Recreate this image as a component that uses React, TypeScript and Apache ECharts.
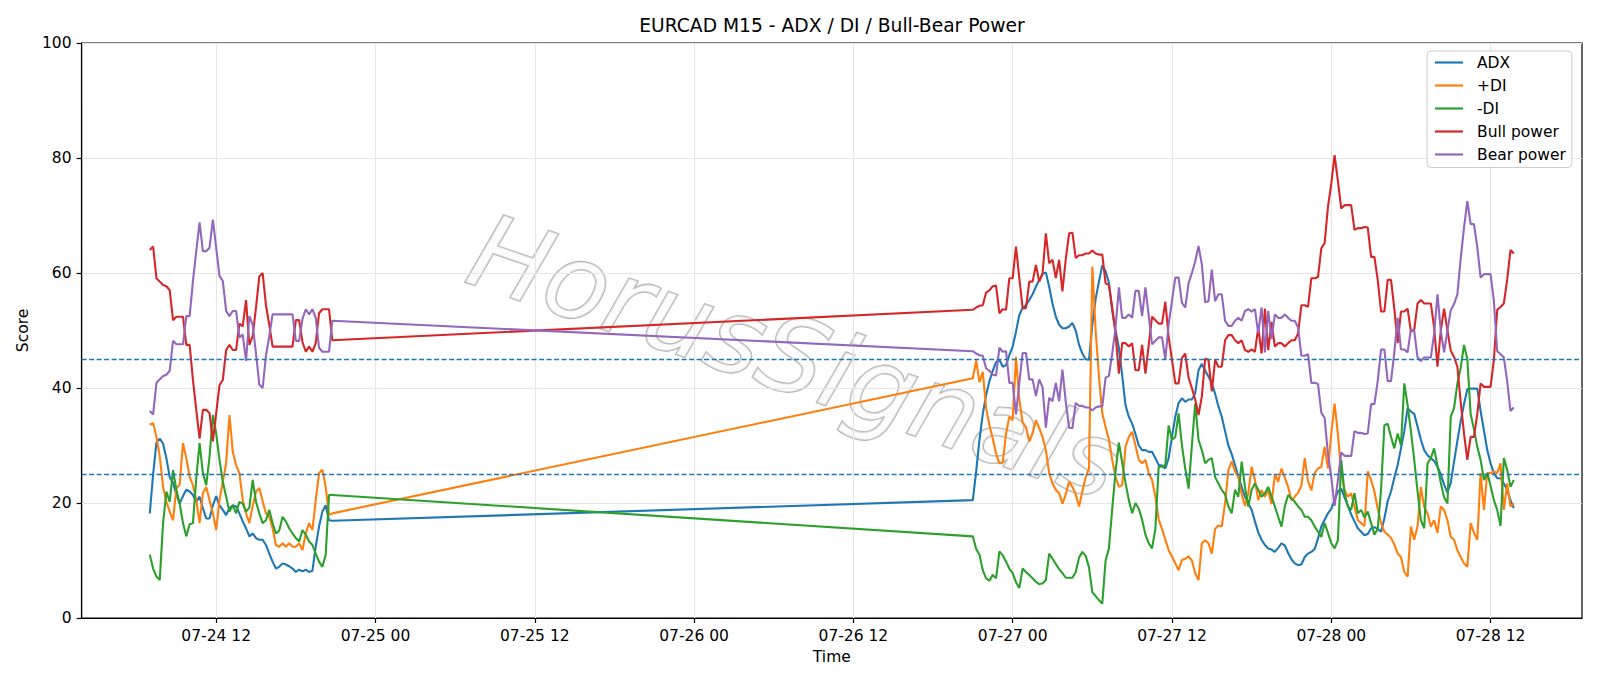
import { useEffect, useRef } from "react";
import * as echarts from "echarts";

// Two trading sessions of M15 bars (weekend gap in between)
const sessionStarts = ["07-24 07:00", "07-26 21:00"];
const sessionBars = [56, 164];

const tickHours = [12, 24, 36, 48, 60, 72, 84, 96, 108];
const tickLabels = ["07-24 12", "07-25 00", "07-25 12", "07-26 00", "07-26 12", "07-27 00", "07-27 12", "07-28 00", "07-28 12"];
const levelLines = [25, 45];
const seriesNames = ["ADX", "+DI", "-DI", "Bull power", "Bear power"];
const seriesColors = ["#1f77b4", "#ff7f0e", "#2ca02c", "#d62728", "#9467bd"];

const adxA = [18.2, 25.0, 30.5, 31.2, 30.3, 27.8, 24.5, 23.5, 21.5, 19.9,
  21.2, 22.3, 22.0, 21.4, 20.2, 21.1, 19.1, 17.3, 17.3, 19.6,
  21.2, 19.6, 18.8, 17.9, 19.1, 19.6, 19.4, 18.2, 16.8, 15.6,
  14.2, 14.7, 13.9, 13.6, 13.6, 12.7, 11.2, 9.8, 8.6, 8.9,
  9.5, 9.3, 9.0, 8.6, 8.0, 8.4, 8.1, 8.4, 8.0, 8.2,
  12.4, 15.9, 18.5, 19.6, 17.0, 16.9];
const adxB = [20.5, 25.5, 31.0, 35.5, 38.8, 41.2, 43.0, 44.5, 44.9, 43.7,
  44.0, 45.7, 47.2, 49.8, 52.7, 53.9, 54.4, 55.3, 56.3, 57.6,
  58.8, 59.8, 60.1, 57.6, 54.7, 52.4, 51.0, 50.4, 50.4, 50.7,
  51.3, 50.0, 47.5, 46.0, 45.0, 44.9, 51.0, 55.5, 58.5, 61.3,
  60.3, 58.3, 53.4, 50.0, 47.0, 42.2, 37.0, 35.0, 33.8, 32.0,
  30.0, 29.2, 29.2, 28.9, 28.9, 27.8, 26.6, 26.5, 26.0, 27.8,
  31.5, 35.0, 37.4, 38.2, 37.6, 38.0, 38.0, 39.1, 43.1, 44.2,
  43.0, 42.0, 40.8, 39.0, 36.8, 35.0, 32.5, 30.0, 28.5, 26.6,
  24.6, 22.8, 21.1, 19.9, 18.8, 16.8, 14.9, 13.6, 12.7, 12.1,
  11.9, 11.5, 12.2, 13.0, 12.6, 11.3, 10.2, 9.5, 9.2, 9.3,
  10.6, 11.2, 11.5, 12.0, 13.8, 15.9, 17.1, 18.2, 19.0, 20.5,
  22.0, 22.5, 21.0, 19.5, 18.0, 16.8, 15.6, 15.0, 14.4, 14.6,
  15.6, 15.8, 15.5, 15.0, 17.3, 20.3, 22.0, 24.4, 26.6, 29.5,
  32.5, 36.5, 35.9, 35.5, 33.3, 31.0, 29.2, 28.3, 27.8, 27.3,
  26.3, 25.0, 23.2, 21.8, 23.5, 27.2, 30.8, 34.2, 37.2, 39.8,
  39.9, 39.9, 39.9, 36.0, 32.6, 29.2, 26.9, 25.2, 24.3, 24.3,
  23.4, 22.3, 20.5, 19.1];

const plusDiA = [33.6, 33.9, 31.5, 28.1, 22.8, 20.2, 18.5, 17.0, 22.5, 23.2,
  30.4, 27.8, 24.6, 23.1, 20.5, 16.5, 21.7, 22.8, 20.5, 18.2,
  15.3, 20.5, 23.7, 26.9, 35.3, 28.9, 26.6, 25.2, 20.5, 18.2,
  16.5, 19.5, 22.0, 22.6, 20.3, 18.2, 17.6, 15.6, 12.7, 12.4,
  13.0, 12.4, 13.0, 12.4, 12.4, 13.0, 11.8, 14.7, 16.5, 15.3,
  20.5, 25.2, 25.8, 22.8, 17.9, 18.2];
const plusDiB = [41.7, 44.8, 41.0, 42.8, 36.5, 33.5, 31.2, 28.6, 26.9, 27.0,
  32.1, 35.0, 34.4, 45.4, 38.0, 34.0, 33.2, 30.7, 32.1, 34.4,
  33.0, 31.5, 29.2, 25.2, 23.4, 22.3, 21.7, 19.9, 21.5, 23.7,
  22.8, 21.5, 19.4, 22.0, 24.5, 26.0, 61.1, 50.0, 42.0, 35.6,
  33.2, 31.0, 27.5, 24.5, 22.8, 23.1, 29.8, 31.5, 32.4, 30.0,
  27.5, 26.9, 27.5, 25.2, 24.0, 21.1, 17.1, 15.5, 13.6, 11.8,
  10.7, 9.5, 8.3, 10.1, 10.3, 10.7, 10.0, 7.8, 6.6, 13.0,
  13.5, 13.0, 11.2, 15.5, 16.1, 15.9, 20.0, 25.7, 27.2, 25.5,
  24.5, 21.5, 19.5, 21.7, 26.3, 24.0, 20.5, 22.2, 21.1, 22.2,
  19.8, 25.0, 23.7, 26.0, 24.4, 22.8, 20.5, 21.1, 21.8, 23.0,
  27.8, 23.8, 22.2, 25.2, 26.0, 26.3, 29.8, 26.0, 32.0, 37.3,
  32.0, 25.2, 22.2, 21.1, 21.7, 19.4, 17.0, 16.5, 16.0, 25.5,
  24.0, 22.0, 19.0, 16.5, 15.0, 14.5, 13.9, 12.8, 11.2, 10.6,
  8.0, 7.2, 15.9, 13.6, 16.0, 22.8, 19.3, 18.2, 15.9, 17.0,
  14.8, 19.4, 18.8, 17.0, 14.1, 13.6, 11.8, 10.6, 9.5, 8.9,
  16.5, 14.8, 13.6, 25.2, 18.8, 25.2, 25.2, 25.5, 25.2, 26.9,
  18.8, 23.4, 19.4, 19.9];

const minusDiA = [11.0, 8.6, 7.2, 6.6, 16.5, 22.0, 20.2, 25.7, 22.3, 19.9,
  16.5, 14.2, 16.3, 16.5, 24.3, 30.4, 25.2, 23.1, 28.0, 35.3,
  32.1, 27.5, 23.7, 21.1, 18.5, 19.6, 18.2, 20.2, 19.9, 18.5,
  19.2, 24.0, 20.2, 18.2, 16.5, 17.0, 18.8, 16.5, 14.7, 15.2,
  17.6, 16.8, 15.6, 14.7, 13.9, 13.3, 15.3, 14.5, 13.3, 12.7,
  11.2, 9.8, 8.9, 11.0, 21.4, 21.4];
const minusDiB = [14.2, 12.0, 11.0, 8.3, 6.9, 6.5, 7.5, 6.9, 11.6, 10.9,
  9.8, 8.6, 7.8, 6.2, 5.2, 8.6, 8.0, 7.5, 6.9, 6.3,
  5.9, 6.0, 6.6, 11.2, 10.3, 9.4, 8.5, 7.8, 7.0, 7.0,
  7.0, 8.0, 10.5, 11.5, 10.8, 8.8, 4.5, 3.8, 3.1, 2.5,
  10.0, 12.1, 19.0, 25.5, 30.5, 27.0, 23.5, 20.5, 18.2, 20.0,
  19.0, 17.1, 14.5, 13.0, 12.1, 15.5, 26.3, 26.3, 26.6, 33.5,
  31.0, 31.5, 35.6, 30.0, 26.0, 22.5, 30.0, 37.3, 31.0, 29.2,
  26.9, 27.5, 27.8, 24.5, 23.4, 22.3, 21.5, 19.4, 18.2, 22.3,
  21.1, 27.2, 22.8, 19.4, 22.3, 23.4, 22.3, 21.1, 21.7, 22.8,
  21.1, 19.4, 17.6, 15.9, 19.4, 21.4, 20.8, 20.2, 19.4, 18.8,
  17.6, 17.6, 17.0, 15.9, 15.0, 14.1, 16.5, 14.8, 13.0, 12.1,
  13.5, 27.5, 21.7, 19.4, 18.8, 21.7, 18.2, 18.8, 17.5, 18.5,
  16.5, 14.5, 15.5, 22.3, 33.5, 33.8, 31.5, 29.5, 32.1, 30.0,
  40.8, 37.0, 32.5, 27.5, 22.0, 17.0, 15.6, 26.9, 27.8, 29.5,
  26.5, 23.5, 21.0, 19.9, 35.0, 36.5, 40.8, 43.5, 47.5, 45.0,
  35.5, 32.8, 29.8, 27.5, 24.0, 25.2, 23.0, 20.5, 18.8, 16.0,
  27.8, 25.8, 22.8, 24.0];

const bullA = [64.0, 64.6, 59.1, 58.5, 57.9, 57.7, 57.0, 51.8, 52.4, 52.4,
  52.4, 47.5, 47.5, 41.4, 36.2, 31.2, 36.2, 36.2, 35.6, 30.7,
  35.6, 40.5, 41.4, 46.6, 47.5, 46.6, 46.6, 51.2, 50.7, 55.3,
  47.5, 49.0, 54.0, 59.4, 60.0, 54.4, 51.0, 47.2, 47.2, 47.2,
  47.2, 47.2, 47.2, 47.2, 51.8, 51.8, 48.0, 46.3, 47.2, 46.3,
  47.8, 53.0, 53.7, 53.7, 53.7, 48.3];
const bullB = [53.6, 54.0, 54.3, 54.4, 56.6, 57.0, 57.7, 57.8, 53.0, 53.7,
  53.6, 59.1, 59.1, 64.6, 59.1, 53.9, 53.9, 58.5, 58.5, 61.4,
  58.5, 59.9, 66.9, 61.7, 62.3, 59.1, 62.3, 56.8, 62.4, 66.9,
  67.0, 62.6, 63.1, 63.1, 63.4, 63.4, 63.9, 63.4, 63.2, 63.2,
  58.2, 57.9, 54.0, 49.5, 42.5, 47.8, 47.8, 47.2, 47.8, 43.1,
  43.1, 47.5, 42.5, 47.5, 52.4, 51.8, 51.2, 51.2, 55.0, 48.9,
  44.9, 40.8, 40.8, 45.2, 46.0, 41.8, 40.0, 38.0, 35.3, 38.5,
  45.1, 44.9, 39.4, 44.9, 43.7, 43.7, 48.3, 49.2, 49.2, 48.3,
  47.8, 48.3, 46.6, 46.3, 46.7, 46.3, 50.5, 46.0, 53.8, 46.6,
  51.5, 47.2, 47.8, 47.8, 47.2, 47.8, 48.3, 48.3, 49.5, 54.4,
  54.4, 54.1, 59.1, 59.1, 59.3, 64.3, 65.2, 71.5, 75.5, 80.5,
  76.0, 71.2, 71.8, 71.8, 71.8, 67.5, 67.8, 67.8, 68.0, 67.9,
  62.8, 62.8, 58.8, 53.3, 53.3, 58.8, 58.8, 53.8, 47.8, 53.3,
  53.3, 53.8, 49.8, 50.1, 54.7, 55.3, 54.7, 54.7, 54.7, 50.5,
  43.7, 50.0, 53.8, 50.0, 46.5, 45.4, 43.7, 37.5, 32.1, 27.5,
  31.5, 31.5, 35.5, 40.8, 40.2, 40.2, 40.2, 44.9, 53.6, 54.1,
  54.7, 58.8, 64.0, 63.4];

const bearA = [36.0, 35.4, 40.9, 41.5, 42.1, 42.3, 43.0, 48.2, 47.6, 47.6,
  47.6, 52.5, 52.5, 58.6, 63.8, 68.8, 63.8, 63.8, 64.4, 69.3,
  64.4, 59.5, 58.6, 53.4, 52.5, 53.4, 53.4, 48.8, 49.3, 44.7,
  52.5, 51.0, 46.0, 40.6, 40.0, 45.6, 49.0, 52.8, 52.8, 52.8,
  52.8, 52.8, 52.8, 52.8, 48.2, 48.2, 52.0, 53.7, 52.8, 53.7,
  52.2, 47.0, 46.3, 46.3, 46.3, 51.7];
const bearB = [46.4, 46.0, 45.7, 45.6, 43.4, 43.0, 42.3, 42.2, 47.0, 46.3,
  46.4, 40.9, 40.9, 35.4, 40.9, 46.1, 46.1, 41.5, 41.5, 38.6,
  41.5, 40.1, 33.1, 38.3, 37.7, 40.9, 37.7, 43.2, 37.6, 33.1,
  33.0, 37.4, 36.9, 36.9, 36.6, 36.6, 36.1, 36.6, 36.8, 36.8,
  41.8, 42.1, 46.0, 50.5, 57.5, 52.2, 52.2, 52.8, 52.2, 56.9,
  56.9, 52.5, 57.5, 52.5, 47.6, 48.2, 48.8, 48.8, 45.0, 51.1,
  55.1, 59.2, 59.2, 54.8, 54.0, 58.2, 60.0, 62.0, 64.7, 61.5,
  54.9, 55.1, 60.6, 55.1, 56.3, 56.3, 51.7, 50.8, 50.8, 51.7,
  52.2, 51.7, 53.4, 53.7, 53.3, 53.7, 49.5, 54.0, 46.2, 53.4,
  48.5, 52.8, 52.2, 52.2, 52.8, 52.2, 51.7, 51.7, 50.5, 45.6,
  45.6, 45.9, 40.9, 40.9, 40.7, 35.7, 34.8, 28.5, 24.5, 19.5,
  24.0, 28.8, 28.2, 28.2, 28.2, 32.5, 32.2, 32.2, 32.0, 32.1,
  37.2, 37.2, 41.2, 46.7, 46.7, 41.2, 41.2, 46.2, 52.2, 46.7,
  46.7, 46.2, 50.2, 49.9, 45.3, 44.7, 45.3, 45.3, 45.3, 49.5,
  56.3, 50.0, 46.2, 50.0, 53.5, 54.6, 56.3, 62.5, 67.9, 72.5,
  68.5, 68.5, 64.5, 59.2, 59.8, 59.8, 59.8, 55.1, 46.4, 45.9,
  45.3, 41.2, 36.0, 36.6];

function toHours(s: string): number {
  const [md, hm] = s.split(" ");
  const day = Number(md.split("-")[1]);
  const [h, m] = hm.split(":").map(Number);
  return (day - 24) * 24 + h + m / 60;
}

const times: number[] = [];
sessionStarts.forEach((s, k) => {
  const t0 = toHours(s);
  for (let j = 0; j < sessionBars[k]; j++) times.push(t0 + j * 0.25);
});

const FONT = "'DejaVu Sans', 'Liberation Sans', sans-serif";

export default function App() {
  const ref = useRef<HTMLDivElement>(null);

  useEffect(() => {
    if (!ref.current) return;
    const chart = echarts.init(ref.current, undefined, { renderer: "svg" });
    const span = times[times.length - 1] - times[0];
    const xMin = times[0] - 0.05 * span;
    const xMax = times[times.length - 1] + 0.05 * span;

    const valueSets = [
      adxA.concat(adxB),
      plusDiA.concat(plusDiB),
      minusDiA.concat(minusDiB),
      bullA.concat(bullB),
      bearA.concat(bearB),
    ];

    const lineSeries = valueSets.map((vals, k) => ({
      name: seriesNames[k],
      type: "line",
      data: times.map((t, i) => [t, vals[i]]),
      symbol: "none",
      showSymbol: false,
      z: 2,
      lineStyle: { color: seriesColors[k], width: 2.1 },
      itemStyle: { color: seriesColors[k] },
      emphasis: { disabled: true },
    }));

    const option: any = {
      animation: false,
      backgroundColor: "#ffffff",
      grid: {
        left: 81.6,
        right: 18,
        top: 43,
        bottom: 68,
        show: true,
        borderColor: "#000",
        borderWidth: 1.2,
        backgroundColor: "transparent",
      },
      graphic: [
        {
          type: "text",
          x: 832,
          y: 25.5,
          z: 10,
          style: {
            text: "EURCAD M15 - ADX / DI / Bull-Bear Power",
            fontSize: 18.7,
            fontFamily: FONT,
            fill: "#000",
            textAlign: "center",
            textVerticalAlign: "middle",
          },
        },
        {
          type: "text",
          x: 795,
          y: 357,
          rotation: -0.33,
          z: 0,
          silent: true,
          style: {
            text: "HorusSignals",
            fontSize: 104,
            fontStyle: "italic",
            fontFamily: FONT,
            fill: "rgba(250,250,250,0.5)",
            stroke: "rgba(150,150,150,0.7)",
            lineWidth: 1.8,
            textAlign: "center",
            textVerticalAlign: "middle",
            shadowColor: "rgba(0,0,0,0.3)",
            shadowBlur: 4,
            shadowOffsetX: 5,
            shadowOffsetY: 5,
          },
        },
      ],
      legend: {
        data: seriesNames.map((n) => ({ name: n, icon: "rect" })),
        orient: "vertical",
        left: 1427,
        top: 51,
        itemWidth: 28,
        itemHeight: 2.2,
        itemGap: 7,
        padding: [3.5, 6, 5, 8],
        borderColor: "#cccccc",
        borderWidth: 1,
        borderRadius: 4,
        backgroundColor: "rgba(255,255,255,0.8)",
        textStyle: { fontSize: 15.5, fontFamily: FONT, color: "#000", padding: [0, 0, 0, 9] },
        selectedMode: false,
      },
      xAxis: {
        type: "value",
        min: xMin,
        max: xMax,
        name: "Time",
        nameLocation: "middle",
        nameGap: 29,
        nameTextStyle: { fontSize: 15.5, fontFamily: FONT, color: "#000" },
        axisLine: { show: true, lineStyle: { color: "#000", width: 1.2 } },
        axisTick: { show: true, customValues: tickHours, length: 5, lineStyle: { color: "#000", width: 1.2 } },
        axisLabel: {
          customValues: tickHours,
          fontSize: 15.5,
          fontFamily: FONT,
          color: "#000",
          margin: 10,
          formatter: (v: number) => {
            const idx = tickHours.indexOf(Math.round(v));
            return idx >= 0 ? tickLabels[idx] : "";
          },
        },
        splitLine: { show: false },
      },
      yAxis: {
        type: "value",
        min: 0,
        max: 100,
        interval: 20,
        name: "Score",
        nameLocation: "middle",
        nameGap: 41,
        nameTextStyle: { fontSize: 15.5, fontFamily: FONT, color: "#000" },
        axisLine: { show: true, lineStyle: { color: "#000", width: 1.2 } },
        axisTick: { show: true, length: 5, lineStyle: { color: "#000", width: 1.2 } },
        axisLabel: { fontSize: 15.5, fontFamily: FONT, color: "#000", margin: 10 },
        splitLine: { show: true, lineStyle: { color: "#e6e6e6", width: 1.2 } },
      },
      series: [
        {
          type: "line",
          data: [[times[0], null]],
          symbol: "none",
          z: 1,
          silent: true,
          markLine: {
            silent: true,
            z: 1,
            symbol: ["none", "none"],
            label: { show: false },
            lineStyle: { color: "#e6e6e6", width: 1.2, type: "solid" },
            data: tickHours.map((h) => ({ xAxis: h })),
          },
        },
        ...lineSeries,
        {
          type: "line",
          data: [[times[0], null]],
          symbol: "none",
          z: 3,
          silent: true,
          markLine: {
            silent: true,
            z: 3,
            symbol: ["none", "none"],
            label: { show: false },
            lineStyle: { color: "#1f77b4", width: 1.3, type: [5, 2.5] },
            data: levelLines.map((v) => ({ yAxis: v })),
          },
        },
      ],
    };

    chart.setOption(option);
    return () => chart.dispose();
  }, []);

  return (
    <div
      ref={ref}
      style={{ position: "absolute", left: 0, top: 0, width: 1600, height: 686, background: "#fff" }}
    />
  );
}
